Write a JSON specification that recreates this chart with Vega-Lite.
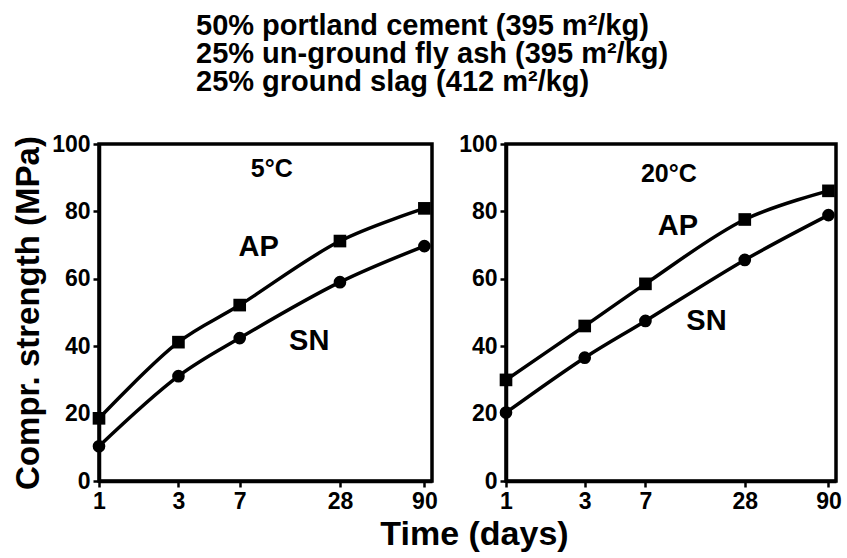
{
  "$schema": "https://vega.github.io/schema/vega-lite/v6.json",
  "background": "white",
  "padding": {"left": 10, "top": 12, "right": 5, "bottom": 5},
  "datasets": {
    "pts": [
      {"panel": "5C", "series": "AP", "day": 1, "strength": 18.6},
      {"panel": "5C", "series": "AP", "day": 3, "strength": 41.2},
      {"panel": "5C", "series": "AP", "day": 7, "strength": 52.2},
      {"panel": "5C", "series": "AP", "day": 28, "strength": 71.2},
      {"panel": "5C", "series": "AP", "day": 90, "strength": 80.9},
      {"panel": "5C", "series": "SN", "day": 1, "strength": 10.3},
      {"panel": "5C", "series": "SN", "day": 3, "strength": 31.1},
      {"panel": "5C", "series": "SN", "day": 7, "strength": 42.4},
      {"panel": "5C", "series": "SN", "day": 28, "strength": 59.0},
      {"panel": "5C", "series": "SN", "day": 90, "strength": 69.7},
      {"panel": "20C", "series": "AP", "day": 1, "strength": 30.0},
      {"panel": "20C", "series": "AP", "day": 3, "strength": 46.0},
      {"panel": "20C", "series": "AP", "day": 7, "strength": 58.5},
      {"panel": "20C", "series": "AP", "day": 28, "strength": 77.6},
      {"panel": "20C", "series": "AP", "day": 90, "strength": 86.1},
      {"panel": "20C", "series": "SN", "day": 1, "strength": 20.3},
      {"panel": "20C", "series": "SN", "day": 3, "strength": 36.6},
      {"panel": "20C", "series": "SN", "day": 7, "strength": 47.5},
      {"panel": "20C", "series": "SN", "day": 28, "strength": 65.6},
      {"panel": "20C", "series": "SN", "day": 90, "strength": 78.9}
    ],
    "labels": [
      {"panel": "5C", "kind": "temp", "label": "5°C", "day": 10.9, "strength": 92.6},
      {"panel": "5C", "kind": "series", "label": "AP", "day": 9.1, "strength": 69.4},
      {"panel": "5C", "kind": "series", "label": "SN", "day": 18.3, "strength": 41.5},
      {"panel": "20C", "kind": "temp", "label": "20°C", "day": 9.7, "strength": 91},
      {"panel": "20C", "kind": "series", "label": "AP", "day": 11, "strength": 75.6},
      {"panel": "20C", "kind": "series", "label": "SN", "day": 16.4, "strength": 47.4}
    ]
  },
  "title": {
    "text": ["50% portland cement (395 m²/kg)", "25% un-ground fly ash (395 m²/kg)", "25% ground slag (412 m²/kg)"],
    "anchor": "start",
    "frame": "group",
    "align": "left",
    "dx": 97,
    "fontSize": 29,
    "fontWeight": "bold",
    "font": "Liberation Sans",
    "lineHeight": 28,
    "offset": 34,
    "color": "black"
  },
  "bounds": "flush",
  "spacing": 74,
  "hconcat": [
    {
      "width": 333,
      "height": 337,
      "layer": [
        {
          "data": {"name": "pts"},
          "transform": [{"filter": "datum.panel == '5C'"}],
          "mark": {"type": "line", "interpolate": "catmull-rom", "color": "black", "strokeWidth": 3.5},
          "encoding": {
            "x": {"field": "day", "type": "quantitative", "scale": {"type": "log", "domain": [1, 95]},
                  "axis": {"values": [1, 3, 7, 28, 90], "title": "Time (days)", "titleFontSize": 34,
                           "titleX": 375, "titleY": 63, "titleBaseline": "alphabetic", "titleAlign": "center"}},
            "y": {"field": "strength", "type": "quantitative", "scale": {"domain": [0, 100], "nice": false},
                  "axis": {"values": [0, 20, 40, 60, 80, 100], "title": "Compr. strength (MPa)", "titleFontSize": 33, "titlePadding": 6}},
            "detail": {"field": "series"}
          }
        },
        {
          "data": {"name": "pts"},
          "transform": [{"filter": "datum.panel == '5C'"}],
          "mark": {"type": "point", "filled": true, "color": "black", "opacity": 1, "size": 160},
          "encoding": {
            "x": {"field": "day", "type": "quantitative"},
            "y": {"field": "strength", "type": "quantitative"},
            "shape": {"field": "series", "type": "nominal", "scale": {"domain": ["AP", "SN"], "range": ["square", "circle"]}, "legend": null}
          }
        },
        {
          "data": {"name": "labels"},
          "transform": [{"filter": "datum.panel == '5C' && datum.kind == 'series'"}],
          "mark": {"type": "text", "fontSize": 29, "fontWeight": "bold", "color": "black", "font": "Liberation Sans"},
          "encoding": {
            "x": {"field": "day", "type": "quantitative"},
            "y": {"field": "strength", "type": "quantitative"},
            "text": {"field": "label"}
          }
        },
        {
          "data": {"name": "labels"},
          "transform": [{"filter": "datum.panel == '5C' && datum.kind == 'temp'"}],
          "mark": {"type": "text", "fontSize": 25, "fontWeight": "bold", "color": "black", "font": "Liberation Sans"},
          "encoding": {
            "x": {"field": "day", "type": "quantitative"},
            "y": {"field": "strength", "type": "quantitative"},
            "text": {"field": "label"}
          }
        }
      ]
    },
    {
      "width": 330,
      "height": 337,
      "layer": [
        {
          "data": {"name": "pts"},
          "transform": [{"filter": "datum.panel == '20C'"}],
          "mark": {"type": "line", "interpolate": "catmull-rom", "color": "black", "strokeWidth": 3.5},
          "encoding": {
            "x": {"field": "day", "type": "quantitative", "scale": {"type": "log", "domain": [1, 97]},
                  "axis": {"values": [1, 3, 7, 28, 90], "title": null}},
            "y": {"field": "strength", "type": "quantitative", "scale": {"domain": [0, 100], "nice": false},
                  "axis": {"values": [0, 20, 40, 60, 80, 100], "title": null}},
            "detail": {"field": "series"}
          }
        },
        {
          "data": {"name": "pts"},
          "transform": [{"filter": "datum.panel == '20C'"}],
          "mark": {"type": "point", "filled": true, "color": "black", "opacity": 1, "size": 160},
          "encoding": {
            "x": {"field": "day", "type": "quantitative"},
            "y": {"field": "strength", "type": "quantitative"},
            "shape": {"field": "series", "type": "nominal", "scale": {"domain": ["AP", "SN"], "range": ["square", "circle"]}, "legend": null}
          }
        },
        {
          "data": {"name": "labels"},
          "transform": [{"filter": "datum.panel == '20C' && datum.kind == 'series'"}],
          "mark": {"type": "text", "fontSize": 29, "fontWeight": "bold", "color": "black", "font": "Liberation Sans"},
          "encoding": {
            "x": {"field": "day", "type": "quantitative"},
            "y": {"field": "strength", "type": "quantitative"},
            "text": {"field": "label"}
          }
        },
        {
          "data": {"name": "labels"},
          "transform": [{"filter": "datum.panel == '20C' && datum.kind == 'temp'"}],
          "mark": {"type": "text", "fontSize": 25, "fontWeight": "bold", "color": "black", "font": "Liberation Sans"},
          "encoding": {
            "x": {"field": "day", "type": "quantitative"},
            "y": {"field": "strength", "type": "quantitative"},
            "text": {"field": "label"}
          }
        }
      ]
    }
  ],
  "config": {
    "font": "Liberation Sans",
    "view": {"stroke": "black", "strokeWidth": 3.5},
    "axis": {
      "grid": false,
      "domainColor": "black",
      "domainWidth": 3.5,
      "tickColor": "black",
      "tickWidth": 2.5,
      "tickSize": 6,
      "labelColor": "black",
      "labelFont": "Liberation Sans",
      "labelFontSize": 23,
      "labelFontWeight": "bold",
      "labelPadding": 3,
      "labelOverlap": false,
      "labelFlush": false,
      "titleColor": "black",
      "titleFont": "Liberation Sans",
      "titleFontWeight": "bold"
    }
  }
}
